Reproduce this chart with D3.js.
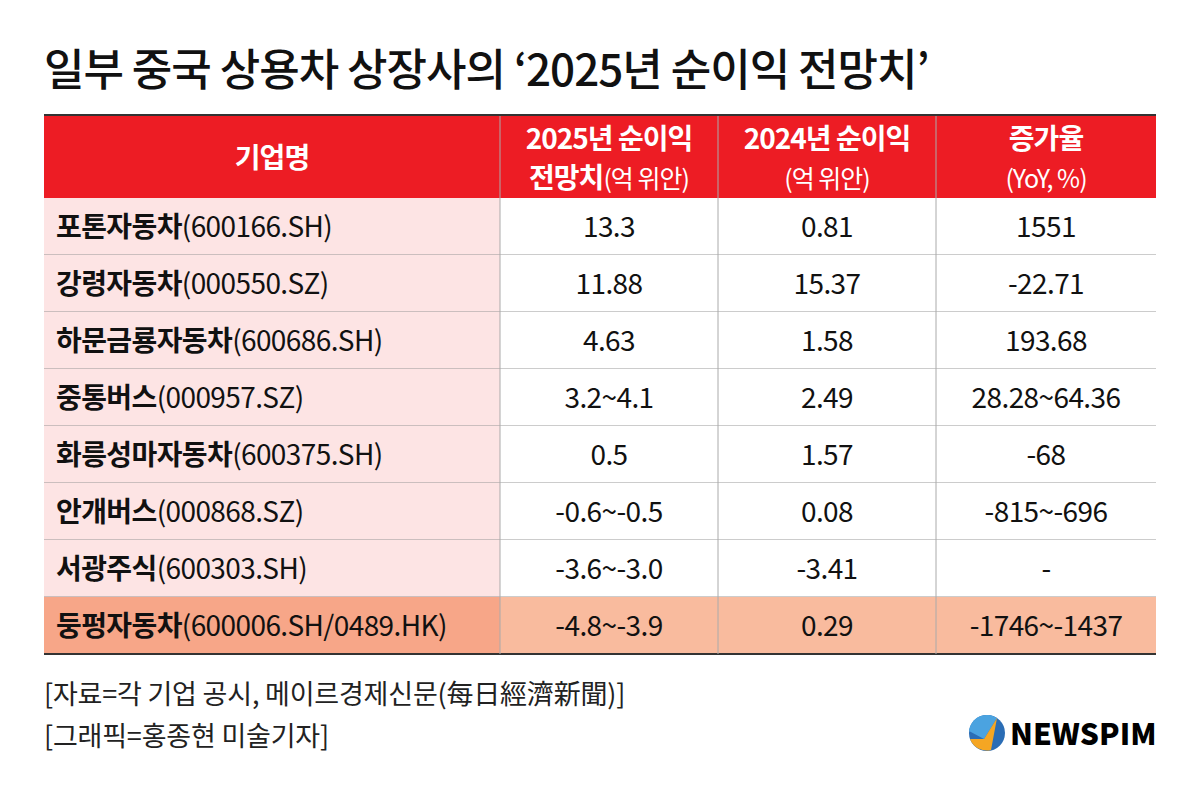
<!DOCTYPE html><html><head><meta charset="utf-8"><script src="https://cdn.jsdelivr.net/npm/d3@7"></script>
<style>body{margin:0;background:#fff}text{font-family:"Noto Sans CJK KR";}</style></head><body><svg id="c" width="1200" height="789"></svg><script>
const companies=["포톤자동차","강령자동차","하문금룡자동차","중통버스","화릉성마자동차","안개버스","서광주식","둥펑자동차"];
const codes=["(600166.SH)","(000550.SZ)","(600686.SH)","(000957.SZ)","(600375.SH)","(000868.SZ)","(600303.SH)","(600006.SH/0489.HK)"];
const profit2025=["13.3","11.88","4.63","3.2~4.1","0.5","-0.6~-0.5","-3.6~-3.0","-4.8~-3.9"];
const profit2024=["0.81","15.37","1.58","2.49","1.57","0.08","-3.41","0.29"];
const yoy=["1551","-22.71","193.68","28.28~64.36","-68","-815~-696","-","-1746~-1437"];
const svg=d3.select("#c");
const colX=[44,500,718,936,1156];
const y=d3.scaleBand().domain(d3.range(8)).range([198,654]);
svg.append("text").attr("x",44).attr("y",86).attr("font-size",44).attr("font-weight",500).attr("fill","#111").attr("letter-spacing",-1).text("일부 중국 상용차 상장사의 ‘2025년 순이익 전망치’");
svg.append("rect").attr("x",44).attr("y",115).attr("width",1112).attr("height",83).attr("fill","#ED1C24");
const hc=(i)=> (colX[i]+colX[i+1])/2;
function ht(i,yy,parts){const t=svg.append("text").attr("x",hc(i)).attr("y",yy).attr("text-anchor","middle").attr("fill","#fff").attr("letter-spacing",-1);
 parts.forEach(p=>t.append("tspan").attr("font-weight",p[1]?700:400).attr("font-size",p[1]?28:25).text(p[0]));}
ht(0,168,[["기업명",1]]);
ht(1,149,[["2025년 순이익",1]]);ht(1,188,[["전망치",1],["(억 위안)",0]]);
ht(2,149,[["2024년 순이익",1]]);ht(2,188,[["(억 위안)",0]]);
ht(3,149,[["증가율",1]]);ht(3,188,[["(YoY, %)",0]]);
d3.range(8).forEach(i=>{
 const last=i===7;
 svg.append("rect").attr("x",44).attr("y",y(i)).attr("width",456).attr("height",y.bandwidth()).attr("fill",last?"#F7A688":"#FDE4E4");
 svg.append("rect").attr("x",500).attr("y",y(i)).attr("width",656).attr("height",y.bandwidth()).attr("fill",last?"#F9BB9E":"#fff");
 const cy=y(i)+y.bandwidth()/2+10;
 const t=svg.append("text").attr("x",56).attr("y",cy).attr("font-size",28).attr("fill","#111").attr("letter-spacing",-0.6);
 t.append("tspan").attr("font-weight",700).text(companies[i]);
 t.append("tspan").attr("font-weight",400).text(codes[i]);
 [profit2025,profit2024,yoy].forEach((arr,j)=>svg.append("text").attr("x",hc(j+1)).attr("y",cy).attr("text-anchor","middle").attr("font-size",28).attr("fill","#111").attr("letter-spacing",-0.6).text(arr[i]));
 svg.append("line").attr("x1",44).attr("x2",1156).attr("y1",y(i)+y.bandwidth()).attr("y2",y(i)+y.bandwidth()).attr("stroke",last?"#333":"#999").attr("stroke-width",last?2:1);
});
[500,718,936].forEach(x=>svg.append("line").attr("x1",x).attr("x2",x).attr("y1",115).attr("y2",654).attr("stroke","#aaa"));
svg.append("line").attr("x1",44).attr("x2",1156).attr("y1",115).attr("y2",115).attr("stroke","#333").attr("stroke-width",2);
svg.append("text").attr("x",44).attr("y",704).attr("font-size",27).attr("fill","#222").attr("letter-spacing",-0.2).text("[자료=각 기업 공시, 메이르경제신문(每日經濟新聞)]");
svg.append("text").attr("x",44).attr("y",746).attr("font-size",27).attr("fill","#222").attr("letter-spacing",-0.2).text("[그래픽=홍종현 미술기자]");
const g=svg.append("g").attr("transform","translate(987,733)");
g.append("circle").attr("r",18).attr("fill","#2B6DB5");
g.append("path").attr("d","M-18,-2 A18,18 0 0 1 10,-15 L-3,6 Z").attr("fill","#4BA3E0");
g.append("path").attr("d","M-17,6 L-3,6 L10,-15 L4,17 A18,18 0 0 1 -17,6Z").attr("fill","#F5A623");
svg.append("text").attr("x",1010).attr("y",745).attr("font-family","Roboto").attr("font-weight",900).attr("font-size",30).attr("fill","#000").text("NEWSPIM");
</script></body></html>
